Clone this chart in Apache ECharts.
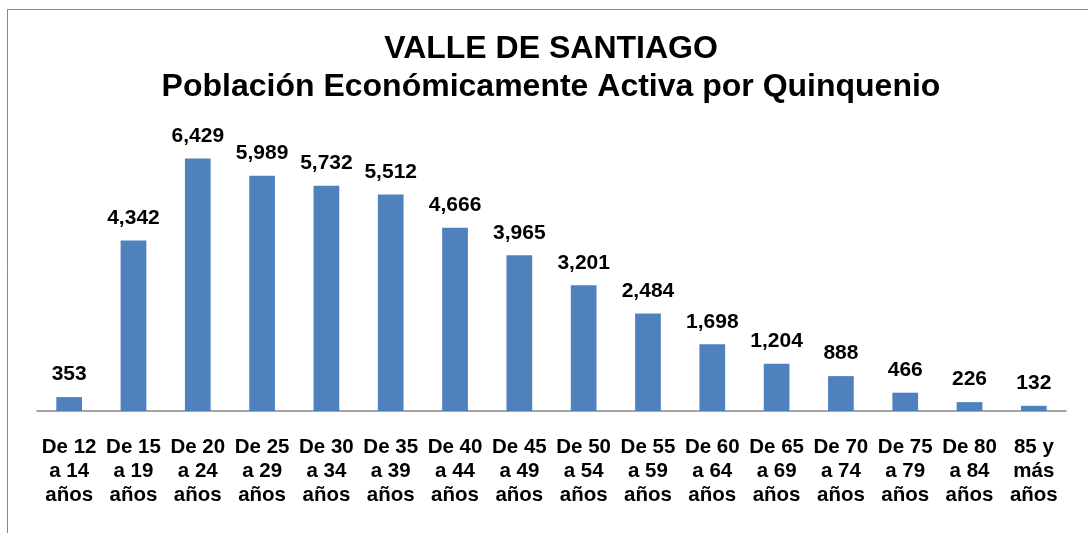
<!DOCTYPE html>
<html>
<head>
<meta charset="utf-8">
<script src="https://cdn.jsdelivr.net/npm/echarts@6/dist/echarts.min.js"></script>
<style>html,body{margin:0;padding:0;background:#fff}#c{width:1088px;height:533px}</style>
</head>
<body>
<div id="c"></div>
<script>
const titleLines = ['VALLE DE SANTIAGO', 'Población Económicamente Activa por Quinquenio'];
const categories = [
  'De 12\na 14\naños', 'De 15\na 19\naños', 'De 20\na 24\naños', 'De 25\na 29\naños',
  'De 30\na 34\naños', 'De 35\na 39\naños', 'De 40\na 44\naños', 'De 45\na 49\naños',
  'De 50\na 54\naños', 'De 55\na 59\naños', 'De 60\na 64\naños', 'De 65\na 69\naños',
  'De 70\na 74\naños', 'De 75\na 79\naños', 'De 80\na 84\naños', '85 y\nmás\naños'
];
const values = [353, 4342, 6429, 5989, 5732, 5512, 4666, 3965, 3201, 2484, 1698, 1204, 888, 466, 226, 132];

const chart = echarts.init(document.getElementById('c'), null, {renderer: 'canvas'});
const font = '"Liberation Sans", Arial, sans-serif';
chart.setOption({
  animation: false,
  backgroundColor: '#ffffff',
  graphic: [{
    type: 'rect',
    shape: {x: 7.5, y: 9.5, width: 1100, height: 600},
    style: {fill: 'none', stroke: '#898989', lineWidth: 1},
    silent: true
  }],
  title: {
    text: titleLines.join('\n'),
    left: 546,
    textAlign: 'center',
    top: 25,
    textStyle: {fontFamily: font, fontSize: 32, fontWeight: 'bold', color: '#000', lineHeight: 38}
  },
  grid: {left: 37, right: 22, top: 136, bottom: 122, containLabel: false},
  xAxis: {
    type: 'category',
    data: categories,
    axisLine: {show: true, lineStyle: {color: '#868686', width: 1.5}},
    axisTick: {show: false},
    axisLabel: {
      interval: 0, margin: 24,
      fontFamily: font, fontSize: 20.5, fontWeight: 'bold', color: '#000', lineHeight: 24
    }
  },
  yAxis: {
    type: 'value', min: 0, max: 7000,
    show: false,
    splitLine: {show: false}
  },
  series: [{
    type: 'bar',
    data: values,
    barWidth: '40%',
    itemStyle: {color: '#4F81BD'},
    label: {
      show: true, position: 'top', distance: 12,
      fontFamily: font, fontSize: 21, fontWeight: 'bold', color: '#000',
      formatter: p => p.value.toLocaleString('en-US')
    }
  }]
});
</script>
</body>
</html>
